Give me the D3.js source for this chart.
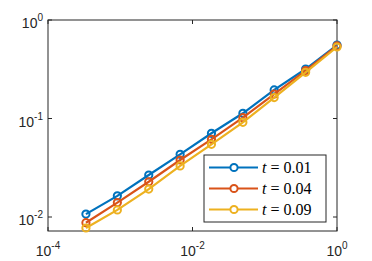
<!DOCTYPE html>
<html>
<head>
<meta charset="utf-8">
<script src="https://cdn.jsdelivr.net/npm/d3@7"></script>
<style>
  body { margin: 0; background: #fff; }
  svg { display: block; }
</style>
</head>
<body>
<svg class="chart" width="372" height="261"></svg>
<script>
var stepSizes = [3.35e-4, 9.12e-4, 2.48e-3, 6.74e-3, 1.83e-2, 4.98e-2, 0.135, 0.368, 1];
var errT001 = [0.0107, 0.0164, 0.0267, 0.0433, 0.0708, 0.113, 0.195, 0.318, 0.557];
var errT004 = [0.00875, 0.0140, 0.0228, 0.0379, 0.0615, 0.102, 0.177, 0.307, 0.545];
var errT009 = [0.00773, 0.0118, 0.0192, 0.0330, 0.0547, 0.0915, 0.163, 0.294, 0.532];
var seriesNames = ["0.01", "0.04", "0.09"];
var seriesColors = ["#0072BD", "#D95319", "#EDB120"];
var xTicks = [1e-4, 1e-2, 1];
var xTickExp = ["-4", "-2", "0"];
var yTicks = [1e-2, 1e-1, 1];
var yTickExp = ["-2", "-1", "0"];

var series = [errT001, errT004, errT009];

var plotLeft = 48, plotRight = 337, plotTop = 20, plotBottom = 231;
var axisColor = "#262626";

var svg = d3.select(".chart");

var x = d3.scaleLog().domain([1e-4, 1]).range([plotLeft, plotRight]);
var y = d3.scaleLog().domain([0.00721, 1]).range([plotBottom, plotTop]);

// axes box
svg.append("rect")
  .attr("x", plotLeft).attr("y", plotTop)
  .attr("width", plotRight - plotLeft).attr("height", plotBottom - plotTop)
  .attr("fill", "#fff")
  .attr("stroke", axisColor).attr("stroke-width", 1);

var tickLen = 4;

// ticks point inward on all four sides
xTicks.forEach(function(t) {
  svg.append("line").attr("x1", x(t)).attr("x2", x(t))
    .attr("y1", plotBottom).attr("y2", plotBottom - tickLen)
    .attr("stroke", axisColor);
  svg.append("line").attr("x1", x(t)).attr("x2", x(t))
    .attr("y1", plotTop).attr("y2", plotTop + tickLen)
    .attr("stroke", axisColor);
});
yTicks.forEach(function(t) {
  svg.append("line").attr("x1", plotLeft).attr("x2", plotLeft + tickLen)
    .attr("y1", y(t)).attr("y2", y(t))
    .attr("stroke", axisColor);
  svg.append("line").attr("x1", plotRight).attr("x2", plotRight - tickLen)
    .attr("y1", y(t)).attr("y2", y(t))
    .attr("stroke", axisColor);
});

// tick labels
var labelFont = "Liberation Sans, Arial, sans-serif";
xTicks.forEach(function(t, i) {
  var txt = svg.append("text")
    .attr("x", x(t)).attr("y", 256)
    .attr("text-anchor", "middle")
    .attr("font-family", labelFont).attr("font-size", 14)
    .attr("fill", axisColor);
  txt.append("tspan").text("10");
  txt.append("tspan").attr("dy", -7).attr("font-size", 10).text(xTickExp[i]);
});
yTicks.forEach(function(t, i) {
  var txt = svg.append("text")
    .attr("x", 43).attr("y", y(t) + 8)
    .attr("text-anchor", "end")
    .attr("font-family", labelFont).attr("font-size", 14)
    .attr("fill", axisColor);
  txt.append("tspan").text("10");
  txt.append("tspan").attr("dy", -7).attr("font-size", 10).text(yTickExp[i]);
});

var line = d3.line()
  .x(function(d, i) { return x(stepSizes[i]); })
  .y(function(d) { return y(d); });

series.forEach(function(vals, s) {
  var g = svg.append("g");
  g.append("path")
    .attr("d", line(vals))
    .attr("fill", "none")
    .attr("stroke", seriesColors[s])
    .attr("stroke-width", 2.2);
  g.selectAll("circle").data(vals).enter().append("circle")
    .attr("cx", function(d, i) { return x(stepSizes[i]); })
    .attr("cy", function(d) { return y(d); })
    .attr("r", 3.6)
    .attr("fill", "none")
    .attr("stroke", seriesColors[s])
    .attr("stroke-width", 2);
});

// legend
var legend = svg.append("g");
legend.append("rect")
  .attr("x", 204).attr("y", 155)
  .attr("width", 122).attr("height", 67)
  .attr("fill", "#fff")
  .attr("stroke", axisColor).attr("stroke-width", 1);

seriesNames.forEach(function(name, s) {
  var ly = 167.5 + s * 21;
  legend.append("line")
    .attr("x1", 209).attr("x2", 258)
    .attr("y1", ly).attr("y2", ly)
    .attr("stroke", seriesColors[s]).attr("stroke-width", 2.2);
  legend.append("circle")
    .attr("cx", 234).attr("cy", ly).attr("r", 3.6)
    .attr("fill", "#fff")
    .attr("stroke", seriesColors[s]).attr("stroke-width", 2);
  var txt = legend.append("text")
    .attr("x", 262).attr("y", ly + 5.5)
    .attr("font-family", "Liberation Serif, DejaVu Serif, serif")
    .attr("font-size", 16)
    .attr("fill", "#000");
  txt.append("tspan").attr("font-style", "italic").text("t");
  txt.append("tspan").attr("dx", 4).text("=");
  txt.append("tspan").attr("dx", 4).text(name);
});
</script>
</body>
</html>
